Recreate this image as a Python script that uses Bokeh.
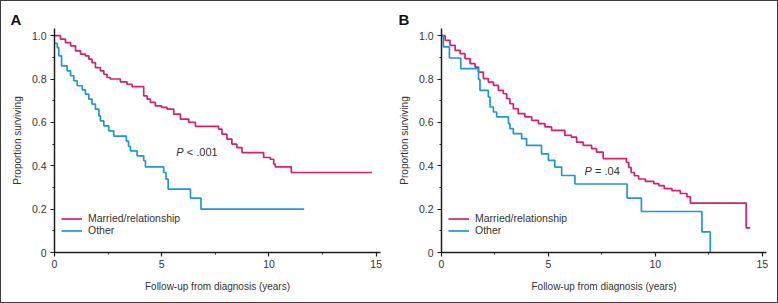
from bokeh.plotting import figure
from bokeh.layouts import row
from bokeh.models import Range1d, FixedTicker
from bokeh.core.properties import value
from bokeh.embed import file_html
from bokeh.resources import INLINE

# ---------------- data ----------------
series_names = ["Married/relationship", "Other"]

A_married_t = [0, 0.28, 0.51, 0.75, 0.98, 1.21, 1.44, 1.6, 1.75, 1.91, 2.14, 2.3, 2.45, 2.6, 3.07,
               3.38, 3.62, 4.16, 4.32, 4.47, 4.7, 5.0, 5.25, 5.56, 5.87, 6.26, 6.57, 7.65, 7.81, 8.04,
               8.27, 8.5, 8.74, 9.75, 10.06, 10.22, 10.29, 11.04, 14.8]
A_married_s = [1.0, 0.984, 0.968, 0.953, 0.93, 0.915, 0.907, 0.892, 0.876, 0.853, 0.838, 0.822, 0.807, 0.8, 0.787,
               0.776, 0.765, 0.722, 0.707, 0.692, 0.676, 0.669, 0.661, 0.638, 0.615, 0.6, 0.582, 0.569, 0.546, 0.523,
               0.5, 0.484, 0.461, 0.438, 0.43, 0.408, 0.395, 0.369, 0.369]

A_other_t = [0, 0.13, 0.2, 0.33, 0.59, 0.75, 0.9, 1.06, 1.29, 1.44, 1.6, 1.75, 1.91, 2.07, 2.14,
             2.3, 2.53, 2.76, 3.35, 3.45, 3.54, 3.85, 4.16, 4.24, 5.09, 5.2, 5.3, 6.34, 6.83, 11.64]
A_other_s = [0.965, 0.945, 0.907, 0.861, 0.838, 0.815, 0.792, 0.769, 0.75, 0.73, 0.707, 0.684, 0.661, 0.63, 0.607,
             0.584, 0.561, 0.537, 0.514, 0.49, 0.469, 0.446, 0.423, 0.395, 0.369, 0.338, 0.292, 0.251, 0.2, 0.2]

B_married_t = [0, 0.17, 0.4, 0.64, 0.87, 1.1, 1.34, 1.57, 1.73, 1.96, 2.19, 2.43, 2.66, 2.89, 3.05,
               3.2, 3.36, 3.59, 3.9, 4.22, 4.53, 4.84, 5.15, 5.77, 6.08, 6.32, 6.63, 7.02, 7.25, 7.56,
               8.65, 8.76, 8.87, 9.02, 9.22, 9.54, 9.93, 10.16, 10.42, 10.78, 11.17, 11.48, 11.64, 14.25, 14.44]
B_married_s = [1.0, 0.978, 0.955, 0.932, 0.917, 0.894, 0.871, 0.855, 0.832, 0.802, 0.786, 0.771, 0.748, 0.732, 0.709,
               0.686, 0.663, 0.64, 0.625, 0.609, 0.594, 0.579, 0.563, 0.54, 0.532, 0.509, 0.494, 0.479, 0.463, 0.433,
               0.415, 0.392, 0.369, 0.354, 0.339, 0.328, 0.318, 0.308, 0.295, 0.285, 0.272, 0.257, 0.228, 0.114, 0.114]

B_other_t = [0, 0.09, 0.37, 0.9, 1.73, 1.8, 2.19, 2.27, 2.43, 2.58, 3.13, 3.2, 3.36, 3.75, 3.98,
             4.68, 5.0, 5.3, 5.62, 6.24, 8.68, 9.35, 12.18, 12.57]
B_other_s = [1.0, 0.948, 0.897, 0.848, 0.798, 0.748, 0.717, 0.671, 0.648, 0.625, 0.594, 0.571, 0.548, 0.525, 0.494,
             0.455, 0.425, 0.394, 0.355, 0.316, 0.251, 0.189, 0.095, 0.0]

x_ticks = [0, 5, 10, 15]
y_ticks = [0, 0.2, 0.4, 0.6, 0.8, 1.0]
y_tick_labels = {0: "0", 0.2: "0.2", 0.4: "0.4", 0.6: "0.6", 0.8: "0.8", 1.0: "1.0"}

panel_letters = ["A", "B"]
p_texts = [("P", "< .001", 5.68, 0.462), ("P", "= .04", 6.69, 0.375)]

MAGENTA = "#d6206f"
BLUE = "#1f97d3"
AXIS = "#1e1e1e"
TXT = "#333333"
FONT = "Liberation Sans, Arial, Helvetica, sans-serif"


def make_panel(letter, mt, ms, ot, os_, ptxt, left, right):
    p = figure(width=388, height=301, output_backend="svg", toolbar_location=None,
               x_range=Range1d(0, 15.2), y_range=Range1d(0, 1.033),
               min_border_left=left, min_border_right=right, min_border_top=27, min_border_bottom=50)
    p.outline_line_color = None
    p.xgrid.grid_line_color = None
    p.ygrid.grid_line_color = None
    p.background_fill_color = "white"
    p.border_fill_color = "white"

    p.step(mt, ms, mode="after", line_color=MAGENTA, line_width=1.7, legend_label=series_names[0])
    p.step(ot, os_, mode="after", line_color=BLUE, line_width=1.7, legend_label=series_names[1])

    # axes
    p.xaxis.ticker = FixedTicker(ticks=x_ticks, minor_ticks=[2.5, 7.5, 12.5])
    p.yaxis.ticker = FixedTicker(ticks=y_ticks, minor_ticks=[0.1, 0.3, 0.5, 0.7, 0.9])
    p.yaxis.major_label_overrides = y_tick_labels
    for ax in (p.xaxis[0], p.yaxis[0]):
        ax.axis_line_color = AXIS
        ax.axis_line_width = 1.5
        ax.major_tick_line_color = AXIS
        ax.minor_tick_line_color = AXIS
        ax.major_tick_line_width = 1.2
        ax.minor_tick_line_width = 1
        ax.major_tick_in = 0
        ax.major_tick_out = 4
        ax.minor_tick_in = 0
        ax.minor_tick_out = 2
        ax.major_label_text_font = FONT
        ax.major_label_text_font_size = "10.5px"
        ax.major_label_text_color = TXT
        ax.axis_label_text_font = FONT
        ax.axis_label_text_font_size = "10px"
        ax.axis_label_text_font_style = "normal"
        ax.axis_label_text_color = TXT
    p.xaxis.axis_label = "Follow-up from diagnosis (years)"
    p.yaxis.axis_label = "Proportion surviving"
    p.xaxis.major_label_standoff = 3
    p.xaxis.axis_label_standoff = 10
    p.yaxis.major_label_standoff = 4
    p.yaxis.axis_label_standoff = 6

    # legend
    lg = p.legend[0]
    lg.location = (7, 16)
    lg.margin = 0
    lg.padding = 0
    lg.spacing = 0
    lg.border_line_color = None
    lg.background_fill_alpha = 0
    lg.glyph_width = 21
    lg.glyph_height = 11
    lg.label_height = 11
    lg.label_standoff = 6
    lg.label_text_font = FONT
    lg.label_text_font_size = "10.5px"
    lg.label_text_color = TXT

    # p-value text
    pl, rest, px, py = ptxt
    p.text(x=[px], y=[py], text=[pl], text_font=value(FONT), text_font_size="11px",
           text_font_style="italic", text_color=TXT, text_align="left", text_baseline="middle")
    p.text(x=[px], y=[py], text=[rest], x_offset=10.5, text_font=value(FONT), text_font_size="11px",
           text_color=TXT, text_align="left", text_baseline="middle")

    # panel letter as title
    p.title.text = letter
    p.title.align = "left"
    p.title.offset = -(left - 9)
    p.title.standoff = 2
    p.title.text_font = FONT
    p.title.text_font_size = "15px"
    p.title.text_font_style = "bold"
    p.title.text_color = "#111111"
    return p


pA = make_panel(panel_letters[0], A_married_t, A_married_s, A_other_t, A_other_s, p_texts[0], 53, 9)
pB = make_panel(panel_letters[1], B_married_t, B_married_s, B_other_t, B_other_s, p_texts[1], 52, 11)

layout = row(pA, pB, styles={"border": "1px solid #3c3c3c"})

open("out.html", "w").write(file_html(layout, INLINE))
